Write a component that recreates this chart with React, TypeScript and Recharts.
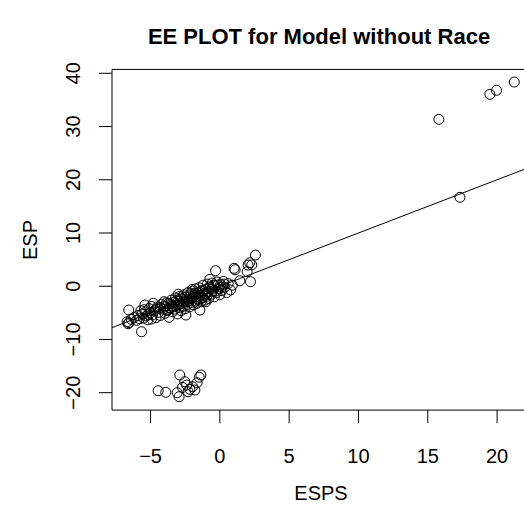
import { ScatterChart, Scatter, XAxis, YAxis, ReferenceLine, ReferenceArea } from 'recharts';

// estimated scores: main band, the low group, and the far outliers
const espsMain = [
  -6.69, -6.62, -6.55, -6.57, -6.4, -6.2, -6.0, -5.9, -5.8, -5.65, -5.6, -5.5, -5.41, -5.35, -5.3, -5.2,
  -5.1, -5.0, -4.93, -4.85, -4.81, -4.7, -4.6, -4.5, -4.4, -4.3, -4.2, -4.1, -4.02, -3.95, -3.9, -3.8,
  -3.7, -3.66, -3.6, -3.5, -3.45, -3.4, -3.3, -3.25, -3.2, -3.1, -3.05, -3.0, -2.95, -2.9, -2.85, -2.8,
  -2.75, -2.7, -2.6, -2.55, -2.5, -2.45, -2.4, -2.35, -2.3, -2.25, -2.2, -2.15, -2.1, -2.0, -1.95, -1.9,
  -1.85, -1.8, -1.75, -1.7, -1.65, -1.6, -1.55, -1.5, -1.44, -1.4, -1.35, -1.3, -1.25, -1.2, -1.1, -1.05,
  -1.0, -0.95, -0.9, -0.85, -0.8, -0.72, -0.7, -0.6, -0.55, -0.5, -0.4, -0.35, -0.31, -0.25, -0.2, -0.1,
  0.0, 0.05, 0.15, 0.25, 0.35, 0.5, 0.6, 0.77, 0.9, 1.03, 1.1, 1.44, 1.97, 2.04, 2.16, 2.21, 2.57, 2.3,
  -4.6, -4.3, -4.0, -3.85, -3.75, -3.55, -3.35, -3.15, -2.98, -2.82, -2.65, -2.48, -2.32, -2.18, -2.05,
  -1.92, -1.78, -1.62, -1.48, -1.32, -1.18, -1.02, -0.88, -0.75, -0.62, -0.45, -0.3, -0.15, 0.1, 0.3,
  -5.7, -5.45, -5.15, -4.95, -3.0, -2.0, -1.0,
];
const espMain = [
  -6.67, -7.05, -6.85, -4.47, -6.2, -5.9, -6.4, -5.5, -6.1, -8.55, -5.2, -6.0, -3.53, -4.8, -5.6, -6.3,
  -4.2, -5.0, -6.16, -5.4, -3.21, -4.6, -5.9, -3.9, -4.9, -5.5, -3.4, -4.3, -2.91, -5.1, -3.8, -4.6,
  -3.2, -5.85, -4.1, -2.6, -3.7, -4.8, -3.0, -4.3, -2.2, -3.6, -5.2, -2.8, -4.0, -1.9, -3.3, -4.6,
  -2.4, -3.8, -1.6, -3.0, -4.2, -5.41, -2.1, -3.4, -1.2, -2.7, -3.9, -1.8, -3.1, -2.3, -0.9, -3.5,
  -1.6, -2.8, -0.5, -2.0, -3.2, -1.3, -2.5, -0.3, -4.47, -1.7, -2.9, -0.8, -2.1, 0.2, -1.4, -2.6,
  -0.6, -1.9, 0.4, -1.1, -2.3, 1.3, -0.3, -1.5, 0.6, -0.9, -2.0, 0.1, 2.91, -1.2, 0.8, -0.5,
  -1.6, 0.3, -0.8, 0.9, -0.2, -1.2, 0.5, -0.71, 0.2, 3.36, 3.1, 1.03, 2.73, 3.98, 4.42, 0.85, 5.86, 4.0,
  -4.3, -4.0, -3.7, -3.1, -4.4, -3.3, -3.9, -2.7, -3.5, -2.2, -2.9, -2.0, -2.9, -2.4, -1.4,
  -2.0, -1.3, -2.4, -1.1, -2.3, -0.9, -1.5, -1.6, -0.1, -0.6, 0.2, -0.9, 0.2, -0.2, 0.4,
  -4.6, -4.4, -5.3, -3.8, -1.5, -0.6, -2.9,
];
const espsLow = [-4.45, -3.9, -2.89, -2.94, -3.08, -2.69, -2.4, -2.16, -1.97, -1.8, -1.64, -1.37, -1.49, -2.53, -2.29];
const espLow = [-19.63, -19.93, -16.68, -20.75, -20.0, -19.0, -18.56, -19.37, -18.88, -19.5, -18.13, -16.68, -17.1, -17.94, -19.82];
const espsOut = [15.8, 17.32, 19.48, 19.96, 21.24];
const espOut = [31.35, 16.7, 36.05, 36.8, 38.36];

const xTicks = [-5, 0, 5, 10, 15, 20];
const yTicks = [-20, -10, 0, 10, 20, 30, 40];
const xDomain = [-7.78, 22.36];
const yDomain = [-23.27, 40.73];
const identity = [-7.78, 22.36]; // abline y = x

const points = [
  ...espsMain.map((x, i) => ({ x, y: espMain[i] })),
  ...espsLow.map((x, i) => ({ x, y: espLow[i] })),
  ...espsOut.map((x, i) => ({ x, y: espOut[i] })),
];

const FONT = '"Liberation Sans", Arial, sans-serif';
const minus = (v: number) => String(v).replace('-', '\u2212');

const Ring = (p: any) => <circle cx={p.cx} cy={p.cy} r={5} fill="none" stroke="#000" strokeWidth={1} />;

const XTick = (p: any) => (
  <text x={p.x} y={p.y + 38} textAnchor="middle" fontSize={20} fontFamily={FONT} fill="#000">
    {minus(p.payload.value)}
  </text>
);

const YTick = (p: any) => (
  <text x={80} y={p.y} transform={`rotate(-90 80 ${p.y})`} textAnchor="middle" fontSize={20} fontFamily={FONT} fill="#000">
    {minus(p.payload.value)}
  </text>
);

export default function App() {
  return (
    <div style={{ position: 'absolute', left: 0, top: 0, width: 524, height: 512, overflow: 'hidden', background: '#fff' }}>
      <svg width={524} height={512} style={{ position: 'absolute', left: 0, top: 0 }}>
        <text x={319} y={44} textAnchor="middle" fontSize={22} fontWeight="bold" fontFamily={FONT}>
          EE PLOT for Model without Race
        </text>
        <text x={321} y={500} textAnchor="middle" fontSize={20} fontFamily={FONT}>ESPS</text>
        <text x={37} y={240} transform="rotate(-90 37 240)" textAnchor="middle" fontSize={20} fontFamily={FONT}>ESP</text>
      </svg>
      <div style={{ position: 'absolute', left: 0, top: 0 }}>
        <ScatterChart width={545} height={512} margin={{ top: 69.4, right: 15.2, bottom: 0, left: 0 }}>
          <XAxis
            type="number"
            dataKey="x"
            domain={xDomain}
            ticks={xTicks}
            interval={0}
            allowDataOverflow
            axisLine={false}
            tickLine={{ stroke: '#000' }}
            tickSize={13}
            height={101.9}
            tick={<XTick />}
          />
          <YAxis
            type="number"
            dataKey="y"
            domain={yDomain}
            ticks={yTicks}
            interval={0}
            allowDataOverflow
            axisLine={false}
            tickLine={{ stroke: '#000' }}
            tickSize={13}
            width={112}
            tick={<YTick />}
          />
          <ReferenceArea x1={xDomain[0]} x2={xDomain[1]} y1={yDomain[0]} y2={yDomain[1]} fill="none" stroke="#000" strokeWidth={1} />
          <Scatter data={points} shape={<Ring />} isAnimationActive={false} />
          <ReferenceLine
            segment={[{ x: identity[0], y: identity[0] }, { x: identity[1], y: identity[1] }]}
            stroke="#000"
            strokeWidth={1}
          />
        </ScatterChart>
      </div>
    </div>
  );
}
